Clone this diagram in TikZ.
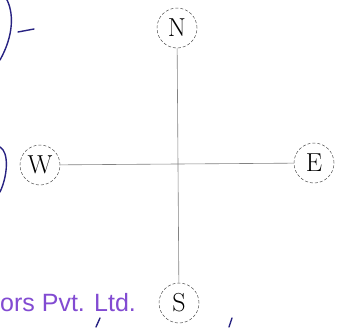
\documentclass[tikz,border=0pt]{standalone}
\usepackage{fontspec}
\newfontfamily\labelsans{Liberation Sans}
\definecolor{scanpurple}{RGB}{130,75,210}
\definecolor{inkblue}{RGB}{40,35,130}
\definecolor{linegray}{RGB}{130,130,130}
\begin{document}
\begin{tikzpicture}[x=1pt,y=-1pt,
  dir/.style={circle,draw=black!70,densely dashed,line width=0.5pt,minimum size=40pt,inner sep=0pt,font=\fontsize{26}{26}\selectfont},
  axis/.style={draw=linegray,line width=0.6pt},
  ink/.style={draw=inkblue,line width=1.4pt,line cap=round}]
\useasboundingbox[fill=white] (0,0) rectangle (350,327);
\node[dir] (N) at (177,28) {N};
\node[dir] (S) at (179,303) {S};
\node[dir] (W) at (40,165) {W};
\node[dir] (E) at (314,163) {E};
\draw[axis] (N) -- (S);
\draw[axis] (W) -- (E);
% handwritten marks
\draw[ink] (6,-2) .. controls (14,12) and (14,35) .. (0,60);
\draw[ink] (18,32) -- (34,29);
\draw[ink] (0,147) .. controls (9,152) and (8,175) .. (0,192);
\draw[ink] (96,327) -- (100,318);
\draw[ink] (229,327) -- (232,318);
\node[anchor=base west,inner sep=0pt,text=scanpurple,font=\labelsans\fontsize{25}{25}\selectfont] (co) at (0,311) {ors Pvt. Ltd.};
\end{tikzpicture}
\end{document}
